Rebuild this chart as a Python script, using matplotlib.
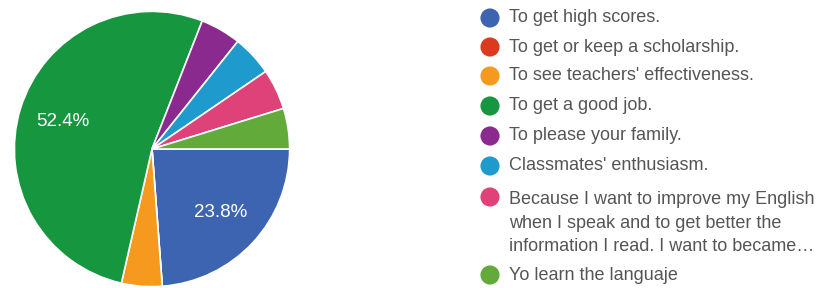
import matplotlib.pyplot as plt

plt.rcParams['font.family'] = ['Liberation Sans', 'DejaVu Sans']

labels = [
    "To get high scores.",
    "To get or keep a scholarship.",
    "To see teachers' effectiveness.",
    "To get a good job.",
    "To please your family.",
    "Classmates' enthusiasm.",
    "Because I want to improve my English\nwhen I speak and to get better the\ninformation I read. I want to became\u2026",
    "Yo learn the languaje",
]
counts = [5, 0, 1, 11, 1, 1, 1, 1]
colors = ["#3d64b0", "#dc3a1f", "#f59a1f", "#179640",
          "#8b2a8e", "#1e9bcc", "#de4278", "#62ab3b"]

W, H = 831, 288
fig = plt.figure(figsize=(W / 100, H / 100), dpi=100)

# pie
ax = fig.add_axes([13 / W, 0, 278 / W, 278 / H])


def pct(p):
    return f"{p:.1f}%" if p > 10 else ""


wedges, _, autotexts = ax.pie(
    counts, colors=colors, startangle=0, counterclock=False,
    autopct=pct, pctdistance=0.68,
    wedgeprops=dict(edgecolor="white", linewidth=1.2),
)
for t in autotexts:
    t.set_color("white")
    t.set_fontsize(13.5)
ax.set_xlim(-1.01, 1.01)
ax.set_ylim(-1.01, 1.01)
ax.set_aspect("equal")

# legend drawn in pixel coordinates
lax = fig.add_axes([0, 0, 1, 1])
lax.set_xlim(0, W)
lax.set_ylim(H, 0)
lax.axis("off")
rows_y = [18, 47, 76, 106, 136, 166, 197, 275]
for y, lab, c in zip(rows_y, labels, colors):
    lax.scatter([490], [y], s=190, color=c, edgecolors="none")
    multi = "\n" in lab
    lax.text(509, y - 6 if multi else y, lab,
             va="top" if multi else "center",
             ha="left", fontsize=13, color="#555555",
             linespacing=1.5)

fig.savefig("out.png", dpi=100)
